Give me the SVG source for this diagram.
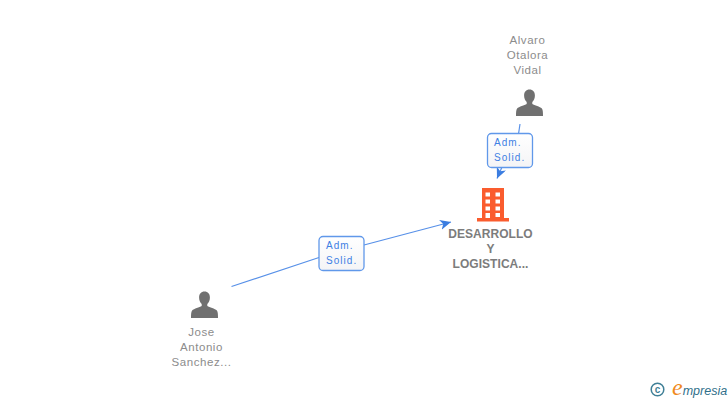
<svg xmlns="http://www.w3.org/2000/svg" width="728" height="400" viewBox="0 0 728 400">
<defs>
<linearGradient id="lb" x1="0" y1="0" x2="0" y2="1"><stop offset="0" stop-color="#ffffff"/><stop offset="1" stop-color="#f4f4f6"/></linearGradient>
<marker id="arr" markerUnits="userSpaceOnUse" markerWidth="13" markerHeight="11" refX="11" refY="5" orient="auto"><path d="M0 0L11 5L0 10L3 5Z" fill="#3b7de0"/></marker>
<symbol id="person" viewBox="0 0 28 28" overflow="visible"><path d="M14 0.5C10.6 0.5 8.6 3 8.6 6.4C8.6 9.2 9.6 11.4 11.2 13V15C9 16.6 3.5 17.4 1.6 19.6C0.6 20.8 0.5 24 0.5 27H27.5C27.5 24 27.4 20.8 26.4 19.6C24.500 17.4 19 16.6 16.8 15V13C18.4 11.4 19.4 9.2 19.4 6.4C19.4 3 17.4 0.5 14 0.5Z" fill="#707070"/></symbol>
</defs>
<style>
text{font-family:"Liberation Sans",Arial,sans-serif;text-anchor:middle}
.n{font-size:11.500px;fill:#8c8c8c;letter-spacing:.55px}
.c{font-size:12px;font-weight:bold;fill:#7c7c7c;letter-spacing:.05px}
.l{font-size:10px;fill:#4080e4;letter-spacing:1.050px;text-anchor:start}
.e{fill:none;stroke:#5790e8;stroke-width:1.200}
.b{fill:url(#lb);stroke:#6098ea;stroke-width:1.300}
</style>
<rect width="728" height="400" fill="#ffffff"/>
<g id="connectors">
<path class="e" d="M520 124L518.500 134"/>
<path class="e" d="M502 167L497 178.500" marker-end="url(#arr)"/>
<path class="e" d="M231.500 286.500L319 257.500"/>
<path class="e" d="M364 245L451 222" marker-end="url(#arr)"/>
</g>
<g id="label-1">
<rect class="b" x="487.500" y="133.500" width="45" height="34" rx="4"/>
<text class="l" x="494" y="146">Adm.</text>
<text class="l" x="494" y="161">Solid.</text>
</g>
<g id="label-2">
<rect class="b" x="319" y="236.500" width="45" height="34" rx="4"/>
<text class="l" x="326" y="249">Adm.</text>
<text class="l" x="326" y="264">Solid.</text>
</g>
<g id="node-alvaro">
<text class="n" x="527.500" y="44">Alvaro</text>
<text class="n" x="527.500" y="59">Otalora</text>
<text class="n" x="527.500" y="74">Vidal</text>
<use href="#person" x="515.500" y="89" width="28" height="28"/>
</g>
<g id="node-jose">
<use href="#person" x="190.500" y="291" width="28" height="28"/>
<text class="n" x="201.500" y="336">Jose</text>
<text class="n" x="201.500" y="351">Antonio</text>
<text class="n" x="201.500" y="366">Sanchez...</text>
</g>
<g id="node-company">
<path fill="#fa5c2e" fill-rule="evenodd" d="M482 188H504V218H509V221.500H477V218H482ZM485.500 192.500V196.500H490V192.500ZM495.500 192.500V196.500H500V192.500ZM485.500 199.500V203.500H490V199.500ZM495.500 199.500V203.500H500V199.500ZM485.500 206.500V210.500H490V206.500ZM495.500 206.500V210.500H500V206.500ZM485.500 213V218H490V213ZM495.500 213V217H500V213Z"/>
<text class="c" x="490.500" y="238">DESARROLLO</text>
<text class="c" x="490.500" y="253">Y</text>
<text class="c" x="490.500" y="268">LOGISTICA...</text>
</g>
<g id="logo">
<circle cx="657.500" cy="389.500" r="6.300" fill="none" stroke="#3f7f96" stroke-width="1.500"/>
<text x="657.500" y="393" style="font-size:10px;font-weight:bold;fill:#3f7f96">c</text>
<text x="672" y="395" style="text-anchor:start;font-size:12.500px;font-style:italic;fill:#2f6f8a"><tspan style="font-size:24px;fill:#f08a1d;font-family:'Liberation Serif',serif">e</tspan>mpresia</text>
</g>
</svg>
